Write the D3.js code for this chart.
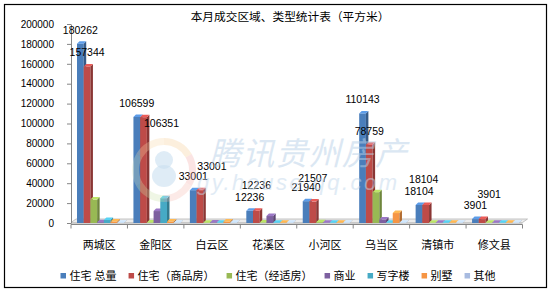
<!DOCTYPE html>
<html>
<head>
<meta charset="utf-8">
<script src="https://cdn.jsdelivr.net/npm/d3@7"></script>
<style>
  body { margin: 0; background: #fff; }
  svg text { font-family: "Liberation Sans", "Noto Sans CJK SC", sans-serif; }
</style>
</head>
<body>
<svg id="chart" width="550" height="293"></svg>
<script>
// 数据
var categories = ["两城区", "金阳区", "白云区", "花溪区", "小河区", "乌当区", "清镇市", "修文县"];
var seriesNames = ["住宅 总量", "住宅（商品房）", "住宅（经适房）", "商业", "写字楼", "别墅", "其他"];
var totalRes = [180262, 106599, 33001, 12236, 21940, 110143, 18104, 3901];
var commRes = [157344, 106351, 33001, 12236, 21507, 78759, 18104, 3901];
var affordRes = [23500, 500, 300, 400, 800, 31000, 300, 200];
var business = [800, 12000, 600, 7000, 300, 3500, 200, 200];
var office = [3000, 25000, 300, 300, 300, 300, 200, 200];
var villa = [1500, 1500, 1500, 300, 300, 10000, 200, 200];
var other = [300, 300, 300, 200, 200, 300, 200, 200];
var yTicks = [0, 20000, 40000, 60000, 80000, 100000, 120000, 140000, 160000, 180000, 200000];

var seriesValues = [totalRes, commRes, affordRes, business, office, villa, other];
var colors = ["#4a7ebb", "#be4b48", "#98b954", "#7d60a0", "#46aac5", "#f69544", "#a8bbe0"];

var svg = d3.select("#chart");

// 外框
svg.append("rect")
    .attr("x", 4.5).attr("y", 4.5)
    .attr("width", 542).attr("height", 283)
    .attr("fill", "#fff").attr("stroke", "#000").attr("stroke-width", 1.2);

// 标题
svg.append("text")
    .attr("x", 290).attr("y", 21)
    .attr("text-anchor", "middle")
    .attr("font-size", "11.7px")
    .attr("fill", "#000")
    .text("本月成交区域、类型统计表（平方米）");

var xScale = d3.scaleBand().domain(categories).range([71, 522.5]),
    sScale = d3.scaleBand().domain(seriesNames).range([6, 53]),
    yScale = d3.scaleLinear().domain([0, 200000]).range([223, 24]);

var dx = 2.5, dy = -2.5;

// 底座
var x0 = xScale.range()[0], x1 = xScale.range()[1];
svg.append("polygon")
    .attr("points", [[x0, 222.5], [x1, 222.5], [x1 + 5, 219], [x0 + 5, 219]].join(" "))
    .attr("fill", "#ececec").attr("stroke", "#b5b5b5").attr("stroke-width", 0.8);
svg.append("rect")
    .attr("x", x0).attr("y", 222.5).attr("width", x1 - x0).attr("height", 2)
    .attr("fill", "#cfcfcf");

// y轴
var yAxis = svg.append("g")
    .attr("transform", "translate(71,0)")
    .call(d3.axisLeft(yScale).tickValues(yTicks).tickSize(4).tickSizeOuter(0).tickPadding(13).tickFormat(d3.format("d")));
yAxis.select(".domain").attr("stroke", "#868686");
yAxis.selectAll(".tick line").attr("stroke", "#868686");
yAxis.selectAll("text").attr("font-size", "10px").attr("fill", "#000");

// x轴
svg.append("line")
    .attr("x1", x0).attr("x2", x1).attr("y1", 224.5).attr("y2", 224.5)
    .attr("stroke", "#868686");
svg.append("g").selectAll("line")
    .data(categories.map(function(c) { return xScale(c); }).concat([x1]))
    .enter().append("line")
    .attr("x1", function(d) { return d; }).attr("x2", function(d) { return d; })
    .attr("y1", 224.5).attr("y2", 228.5)
    .attr("stroke", "#868686");
svg.append("g").selectAll("text")
    .data(categories)
    .enter().append("text")
    .attr("x", function(d) { return xScale(d) + xScale.bandwidth() / 2; })
    .attr("y", 249)
    .attr("text-anchor", "middle")
    .attr("font-size", "11px")
    .attr("fill", "#000")
    .text(function(d) { return d; });

// 柱子（伪3D）
var barData = [];
categories.forEach(function(c, i) {
    seriesNames.forEach(function(s, j) {
        barData.push({cat: c, ser: s, j: j, value: seriesValues[j][i]});
    });
});

var bw = sScale.bandwidth();
var bars = svg.append("g").selectAll("g")
    .data(barData)
    .enter().append("g");

bars.each(function(d) {
    var g = d3.select(this),
        x = xScale(d.cat) + sScale(d.ser),
        yt = yScale(d.value),
        yb = yScale(0),
        base = d3.color(colors[d.j]);
    g.append("rect")
        .attr("x", x).attr("y", yt)
        .attr("width", bw).attr("height", yb - yt)
        .attr("fill", base);
    g.append("polygon")
        .attr("points", [[x + bw, yt], [x + bw + dx, yt + dy], [x + bw + dx, yb + dy], [x + bw, yb]].join(" "))
        .attr("fill", base.darker(0.9));
    g.append("polygon")
        .attr("points", [[x, yt], [x + bw, yt], [x + bw + dx, yt + dy], [x + dx, yt + dy]].join(" "))
        .attr("fill", base.brighter(0.6));
});

// 数据标签（住宅总量、商品房）
var redLabelNudge = [[0, 0], [18, 20], [12, -10], [0, -12], [0, -10], [0, 0], [-2, -12], [7, -11]];
var labelG = svg.append("g").attr("font-size", "10.5px").attr("text-anchor", "middle").attr("fill", "#000");
[0, 1].forEach(function(j) {
    labelG.selectAll("text.s" + j)
        .data(categories)
        .enter().append("text")
        .attr("class", "s" + j)
        .attr("x", function(c, i) {
            return xScale(c) + sScale(seriesNames[j]) + bw / 2 + (j === 1 ? redLabelNudge[i][0] : 0);
        })
        .attr("y", function(c, i) {
            return yScale(seriesValues[j][i]) - 10 + (j === 1 ? redLabelNudge[i][1] : 0);
        })
        .text(function(c, i) { return seriesValues[j][i]; });
});

// 水印
var wm = svg.append("g").attr("pointer-events", "none");
var ringColors = ["#f5c98e", "#f2a7a2", "#f4b8b0", "#c9e0a8", "#d6e6c0", "#f7d7a6"];
var arc = d3.arc().innerRadius(25).outerRadius(32);
var pie = d3.pie().sort(null).value(1)(ringColors);
wm.append("g").attr("transform", "translate(164,170)")
    .selectAll("path").data(pie).enter().append("path")
    .attr("d", arc)
    .attr("fill", function(d) { return d.data; })
    .attr("opacity", 0.3);
wm.append("ellipse").attr("cx", 164).attr("cy", 176).attr("rx", 12).attr("ry", 11)
    .attr("fill", "#c9dff0").attr("opacity", 0.6);
wm.append("circle").attr("cx", 164).attr("cy", 160).attr("r", 9)
    .attr("fill", "#c9dff0").attr("opacity", 0.6);
wm.append("text")
    .attr("x", 209).attr("y", 165)
    .attr("font-size", "32px").attr("font-style", "italic")
    .attr("fill", "#b9d1e8").attr("opacity", 0.5)
    .attr("textLength", 198)
    .text("腾讯贵州房产");
wm.append("text")
    .attr("x", 197).attr("y", 190)
    .attr("font-size", "22px").attr("font-style", "italic")
    .attr("fill", "#c3d8ec").attr("opacity", 0.5)
    .attr("textLength", 200)
    .text("gy.house.qq.com");

// 图例
var legend = svg.append("g").attr("font-size", "11px");
var lx = 60.5;
seriesNames.forEach(function(s, j) {
    legend.append("rect")
        .attr("x", lx).attr("y", 273)
        .attr("width", 5.5).attr("height", 5.5)
        .attr("fill", colors[j]);
    var t = legend.append("text")
        .attr("x", lx + 9).attr("y", 280)
        .attr("fill", "#000")
        .text(s);
    lx += 9 + t.node().getComputedTextLength() + 12;
});
</script>
</body>
</html>
